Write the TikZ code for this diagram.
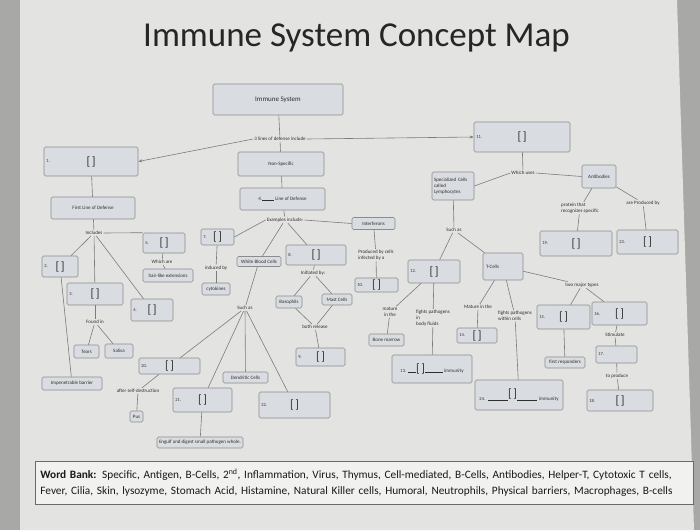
\documentclass[tikz,border=0pt]{standalone}
\usepackage{fontspec}
\setmainfont{Carlito}
\usetikzlibrary{arrows.meta}
\definecolor{pagebg}{HTML}{E3E3E1}
\definecolor{outerbg}{HTML}{A8A8A6}
\definecolor{boxfill}{HTML}{D9DCE0}
\definecolor{boxline}{HTML}{8A8C8E}
\definecolor{linkc}{HTML}{7C7C7C}
\definecolor{txtc}{HTML}{2E2E2E}
\definecolor{wbfill}{HTML}{F1F1EF}
\definecolor{wbline}{HTML}{6A6A6A}
\newcommand\ctxt{\fontsize{5}{5.8}\selectfont}
\newcommand\cnum{\fontsize{4.5}{5}\selectfont}
\newcommand\cbrk{\fontsize{12}{12}\selectfont}
\newcommand\bk{{\cbrk[\hspace{1.5pt}]}}
\newcommand\blank[1]{\rule[-0.3pt]{#1}{0.4pt}}
\newcommand\nbox[6]{%
  \node[box,minimum width=#4,minimum height=#5] (#1) at (#2,#3) {\bk};
  \node[numtxt] (n#1) at (#1.west) {#6};}
\begin{document}
\begin{tikzpicture}[x=1pt,y=-1pt,
  box/.style={draw=boxline,fill=boxfill,rounded corners=1.5pt,line width=0.6pt,inner sep=1pt,font=\ctxt,text=txtc},
  lbl/.style={inner sep=1pt,font=\ctxt,text=txtc,align=center},
  lbll/.style={inner sep=1pt,font=\ctxt,text=txtc,align=left},
  link/.style={draw=linkc,line width=0.6pt},
  arr/.style={link,-{Stealth[length=4pt,width=3pt]}},
  numtxt/.style={anchor=west,inner sep=0pt,font=\cnum,text=txtc,xshift=2.5pt},
]
\useasboundingbox (0,0) rectangle (700,530);
\fill[outerbg] (0,0) rectangle (700,530);
\fill[pagebg] (20,0) -- (677,0) -- (694,530) -- (20,530) -- cycle;

% title
\node[anchor=base,font=\fontsize{35}{40}\selectfont,text=black!85] (title) at (356.5,46) {Immune System Concept Map};

% top
\node[box,minimum width=130,minimum height=31,font=\fontsize{7}{8}\selectfont] (sys) at (278,99.5) {Immune System};
\node[lbl] (lines3) at (280,139) {3 lines of defense include};
\nbox{b1}{91}{161.5}{94}{29}{1.}
\node[box,minimum width=86,minimum height=24] (nonspec) at (281,164) {Non-Specific};
\node[box,minimum width=85,minimum height=22] (line4) at (282.5,199) {4.\blank{12pt}\ Line of Defense};
\node[box,minimum width=84,minimum height=22] (first) at (93,208) {First Line of Defense};
\nbox{b11}{522}{137}{96}{30}{11.}

% first line of defense
\node[lbl] (includes) at (94,233) {Includes};
\nbox{b2}{60}{266.5}{36}{21}{2.}
\nbox{b5}{164}{243}{42}{20}{5.}
\node[lbl] (whichare) at (162,262) {Which are};
\node[box,minimum width=50,minimum height=13] (hair) at (168,275.5) {hair-like extensions};
\nbox{b3}{95}{294}{56}{22}{3.}
\nbox{b4}{152}{310}{42}{22}{4.}
\node[lbl] (foundin) at (95,322) {Found in};
\node[box,minimum width=25,minimum height=13] (tears) at (86.5,351.5) {Tears};
\node[box,minimum width=28,minimum height=14] (saliva) at (119,351) {Saliva};
\node[box,minimum width=60,minimum height=13] (impen) at (72,383.5) {Impenetrable barrier};

% second line
\node[lbl] (examples) at (285,220) {Examples include:};
\nbox{b7}{217.5}{237}{33}{16}{7.}
\node[lbl] (inducedby) at (216,268) {induced by};
\node[box,minimum width=28,minimum height=12] (cyto) at (216,289) {cytokines};
\node[box,minimum width=44,minimum height=10] (wbc) at (259,261.5) {White Blood Cells};
\nbox{b8}{316}{255}{60}{20}{8.}
\node[lbl] (initiated) at (313,273) {Initiated by:};
\node[box,minimum width=26,minimum height=12] (baso) at (289,302) {Basophils};
\node[box,minimum width=30,minimum height=11] (mast) at (337,299.5) {Mast Cells};
\node[lbl] (bothrel) at (315,327) {both release};
\nbox{b9}{320.5}{357}{49}{18}{9.}
\node[box,minimum width=43,minimum height=12] (interf) at (373.5,223.5) {Interferons};
\node[lbll] (producedby) at (376,255) {Produced by cells\\infected by a};
\nbox{b10}{376.5}{285}{43}{14}{10.}
\node[lbl] (suchas2) at (245,308) {Such as};
\node[box,minimum width=45,minimum height=11] (dendritic) at (245.5,377.5) {Dendritic Cells};
\nbox{b20}{169.5}{366}{61}{16}{20.}
\nbox{b21}{202.5}{400}{59}{24}{21.}
\nbox{b22}{294.5}{405}{71}{26}{22.}
\node[lbl] (afterself) at (138,391) {after self-destruction};
\node[box,minimum width=13,minimum height=11,inner sep=0.5pt] (pus) at (136.5,416.5) {Pus};
\node[box,minimum width=86,minimum height=11,inner sep=0.5pt] (engulf) at (200,442.5) {Engulf and digest small pathogen whole.};

% specific
\node[lbl] (whichuses) at (523,173) {Which uses};
\node[box,minimum width=42,minimum height=28,align=left,text width=38pt] (spec) at (453,186) {Specialized Cells\\called\\Lymphocytes};
\node[box,minimum width=34,minimum height=23] (antib) at (599,176.5) {Antibodies};
\node[lbll] (protein) at (580,208) {protein that\\recognizes specific};
\node[lbl] (areprod) at (643,203) {are Produced by};
\nbox{b19}{576}{243.5}{72}{25}{19.}
\nbox{b23}{647.5}{242}{61}{24}{23.}
\node[lbl] (suchas1) at (454,230) {Such as};
\nbox{b12}{434}{271.5}{52}{23}{12.}
\node[box,minimum width=40,minimum height=27,align=left,text width=34pt] (tcells) at (503,266.5) {T-Cells\\[4pt]};
\node[lbl] (twomajor) at (582,285) {two major types};
\nbox{b15}{563.5}{317}{53}{24}{15.}
\nbox{b16}{619.5}{313.5}{55}{23}{16.}
\node[lbl] (stim) at (615,335) {Stimulate};
\node[box,minimum width=41,minimum height=17] (b17) at (616.5,354.5) {};
\node[numtxt] (nb17) at (b17.west) {17.};
\node[lbl] (toproduce) at (617,376) {to produce};
\nbox{b18}{620}{400.5}{66}{21}{18.}
\node[box,minimum width=40,minimum height=11,inner sep=0.5pt] (firstresp) at (565,362.5) {first responders};
\node[lbl] (maturein) at (478,307) {Mature in the};
\node[lbll] (fightswithin) at (515,316) {fights pathogens\\within cells};
\nbox{b14}{477}{335.5}{40}{15}{14.}
\node[box,minimum width=88,minimum height=30] (b24) at (519,395) {{\cnum 24.}\hspace{3pt}\blank{20pt}\raisebox{3pt}{\bk}\blank{20pt}\hspace{2pt}immunity};
\node[box,minimum width=80,minimum height=28] (b13) at (432,369) {{\cnum 13.}\hspace{2pt}\blank{8pt}\bk\blank{18pt}\hspace{1pt}immunity};
\node[lbl] (maturein2) at (390,312) {mature\\in the};
\node[lbll] (fightsbody) at (433,318) {fights pathogens\\in\\body fluids};
\node[box,minimum width=35,minimum height=12] (bone) at (386.5,340) {Bone marrow};

% word bank
\node[draw=wbline,fill=wbfill,line width=0.8pt,minimum width=655,minimum height=43,anchor=north west,
      inner xsep=5pt,align=left,text width=648pt,font=\fontsize{11.3}{16.5}\selectfont,text=black!90] (wb) at (35,461)
  {\textbf{Word Bank:} Specific, Antigen, B-Cells, 2\textsuperscript{nd}, Inflammation, Virus, Thymus, Cell-mediated, B-Cells, Antibodies, Helper-T, Cytotoxic T cells,\\
   Fever, Cilia, Skin, lysozyme, Stomach Acid, Histamine, Natural Killer cells, Humoral, Neutrophils, Physical barriers, Macrophages, B-cells};

% connectors
\draw[link] (sys) -- (lines3);
\draw[arr] (lines3.west) -- (b1.east);
\draw[arr] (lines3.east) -- (b11.west);
\draw[link] (lines3) -- (nonspec);
\draw[link] (nonspec) -- (line4);
\draw[link] (line4) -- (examples);
\draw[link] (b1) -- (first);
\draw[link] (first) -- (includes);
\draw[link] (includes) -- (b2);
\draw[link] (includes) -- (b3);
\draw[link] (includes) -- (b4);
\draw[link] (includes.east) -- (b5.north west);
\draw[link] (b5) -- (whichare);
\draw[link] (whichare) -- (hair);
\draw[link] (b2) -- (impen);
\draw[link] (b3) -- (foundin);
\draw[link] (foundin) -- (tears);
\draw[link] (foundin) -- (saliva);
\draw[link] (b7.east) -- (examples.west);
\draw[link] (b7) -- (inducedby);
\draw[link] (inducedby) -- (cyto);
\draw[link] (examples) -- (wbc);
\draw[link] (examples) -- (b8);
\draw[link] (examples.east) -- (interf.west);
\draw[link] (wbc) -- (suchas2);
\draw[link] (suchas2) -- (b20);
\draw[link] (suchas2) -- (b21);
\draw[link] (suchas2) -- (dendritic);
\draw[link] (suchas2) -- (b22);
\draw[link] (b20) -- (afterself);
\draw[link] (afterself) -- (pus);
\draw[link] (b21) -- (engulf);
\draw[link] (b8) -- (initiated);
\draw[link] (initiated) -- (baso);
\draw[link] (initiated) -- (mast);
\draw[link] (baso) -- (bothrel);
\draw[link] (mast) -- (bothrel);
\draw[link] (bothrel) -- (b9);
\draw[link] (interf) -- (producedby);
\draw[link] (producedby) -- (b10);
\draw[link] (b11) -- (whichuses);
\draw[link] (whichuses.west) -- (spec.east);
\draw[link] (whichuses.east) -- (antib.west);
\draw[link] (antib) -- (protein);
\draw[link] (antib) -- (areprod);
\draw[link] (protein) -- (b19);
\draw[link] (areprod) -- (b23);
\draw[link] (spec) -- (suchas1);
\draw[link] (suchas1) -- (b12);
\draw[link] (suchas1) -- (tcells);
\draw[link] (b12) -- (maturein2);
\draw[link] (maturein2) -- (bone);
\draw[link] (b12) -- (fightsbody);
\draw[link] (fightsbody) -- (b13);
\draw[link] (tcells) -- (maturein);
\draw[link] (maturein) -- (b14);
\draw[link] (tcells) -- (fightswithin);
\draw[link] (fightswithin) -- (b24);
\draw[link] (tcells) -- (twomajor);
\draw[link] (twomajor) -- (b15);
\draw[link] (twomajor) -- (b16);
\draw[link] (b15) -- (firstresp);
\draw[link] (b16) -- (stim);
\draw[link] (stim) -- (b17);
\draw[link] (b17) -- (toproduce);
\draw[link] (toproduce) -- (b18);
\end{tikzpicture}
\end{document}
